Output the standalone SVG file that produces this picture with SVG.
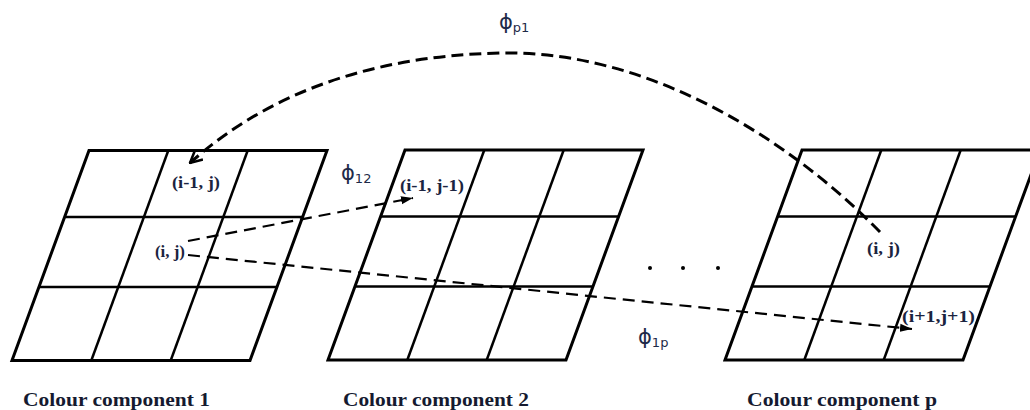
<svg xmlns="http://www.w3.org/2000/svg" xmlns:xlink="http://www.w3.org/1999/xlink" width="1030" height="410" viewBox="0 0 1030 410">
<style>
.border{fill:none;stroke:#000;stroke-width:3;stroke-linejoin:miter}
.inner{stroke:#000;stroke-width:2.5}
.cell{font-family:"Liberation Serif",serif;font-weight:bold;font-size:16px;fill:#1b2440}
.cap{font-family:"Liberation Serif",serif;font-weight:bold;font-size:18.5px;fill:#151a30}
.phi{font-family:"DejaVu Sans",sans-serif;font-size:21px;fill:#1e2a48}
.sub{font-size:13px}
.dash{fill:none;stroke:#000;stroke-width:2.2;stroke-dasharray:12 7}
.arc{fill:none;stroke:#000;stroke-width:3;stroke-dasharray:12 6}
</style>
<defs>
<g id="grid">
<polygon class="border" points="0,0 238,0 161,210 -77,210"/>
<line class="inner" x1="-24.4" y1="66.5" x2="213.6" y2="66.5"/>
<line class="inner" x1="-50" y1="136.5" x2="188" y2="136.5"/>
<line class="inner" x1="79.3" y1="0" x2="2.3" y2="210"/>
<line class="inner" x1="158.7" y1="0" x2="81.7" y2="210"/>
</g>
<marker id="tri" viewBox="0 0 12 10" refX="12" refY="5" markerWidth="12" markerHeight="10" markerUnits="userSpaceOnUse" orient="auto">
<path d="M0,1 L12,5 L0,9 z" fill="#000"/>
</marker>
<marker id="open" viewBox="0 0 14 14" refX="13" refY="7" markerWidth="14" markerHeight="14" markerUnits="userSpaceOnUse" orient="auto">
<path d="M1,1 L13,7 L1,13" fill="none" stroke="#000" stroke-width="2.5"/>
</marker>
</defs>

<g id="component1">
<use xlink:href="#grid" href="#grid" transform="translate(89,150.5)"/>
<text class="cell" x="172" y="188" textLength="48" lengthAdjust="spacingAndGlyphs">(i-1, j)</text>
<text class="cell" x="155" y="257" textLength="30" lengthAdjust="spacingAndGlyphs">(i, j)</text>
<text class="cap" x="23" y="406" textLength="187" lengthAdjust="spacingAndGlyphs">Colour component 1</text>
</g>

<g id="component2">
<use xlink:href="#grid" href="#grid" transform="translate(405,150)"/>
<text class="cell" x="400" y="191" textLength="64" lengthAdjust="spacingAndGlyphs">(i-1, j-1)</text>
<text class="cap" x="343" y="406" textLength="186" lengthAdjust="spacingAndGlyphs">Colour component 2</text>
</g>

<g id="componentp">
<use xlink:href="#grid" href="#grid" transform="translate(802,150)"/>
<text class="cell" x="867" y="254" textLength="33" lengthAdjust="spacingAndGlyphs">(i, j)</text>
<text class="cell" x="902" y="322" textLength="73" lengthAdjust="spacingAndGlyphs">(i+1,j+1)</text>
<text class="cap" x="747" y="406" textLength="190" lengthAdjust="spacingAndGlyphs">Colour component p</text>
</g>

<g id="ellipsis">
<circle cx="650" cy="268" r="2"/>
<circle cx="683" cy="268" r="2"/>
<circle cx="718" cy="268" r="2"/>
</g>

<g id="connectors">
<path class="dash" d="M188,241 L413,198" marker-end="url(#tri)"/>
<path class="dash" d="M188,255 L912,329" marker-end="url(#tri)"/>
<path class="arc" d="M880,232 C780,130 640,50 500,53 C360,56 260,100 190,163" marker-end="url(#open)"/>
<text class="phi" x="341" y="180">ϕ<tspan class="sub" dy="3">12</tspan></text>
<text class="phi" x="499" y="29">ϕ<tspan class="sub" dy="3">p1</tspan></text>
<text class="phi" x="638" y="344">ϕ<tspan class="sub" dy="3">1p</tspan></text>
</g>
</svg>
